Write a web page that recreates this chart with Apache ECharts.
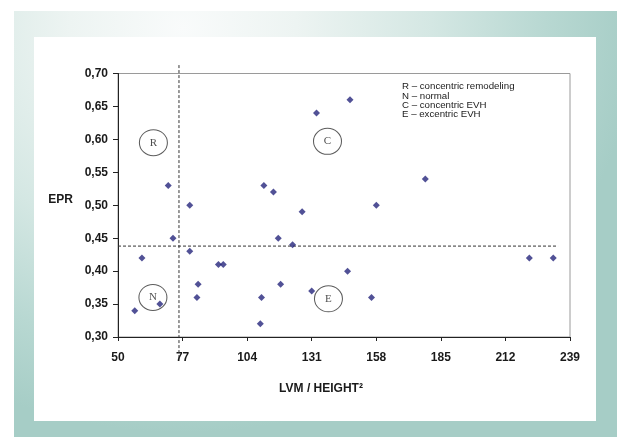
<!DOCTYPE html>
<html>
<head>
<meta charset="utf-8">
<script src="https://cdn.jsdelivr.net/npm/echarts@6/dist/echarts.min.js"></script>
<style>
  html, body { margin: 0; padding: 0; background: #ffffff; }
  #wrap { position: relative; width: 617px; height: 437px; overflow: hidden; }
  #bg { position: absolute; left: 14px; top: 11px; width: 603px; height: 426px;
        background: radial-gradient(ellipse 75% 95% at 28% 4%, #f9fbfb 0%, #edf4f2 25%, #d4e7e3 55%, #b8d8d2 80%, #a6cdc6 100%); }
  #panel { position: absolute; left: 34px; top: 37px; width: 562px; height: 384px; background: #ffffff; }
  #chart { position: absolute; left: 0; top: 0; width: 617px; height: 437px; }
</style>
</head>
<body>
<div id="wrap">
  <div id="bg"></div>
  <div id="panel"></div>
  <div id="chart"></div>
</div>
<script>
// ---- data ----
const lvm = [57, 60, 67.5, 71, 73, 80, 80, 83, 83.5, 92, 94, 109.5, 110, 111, 115, 117, 118, 123, 127, 131, 133, 146, 147, 156, 158, 178.5, 222, 232];
const epr = [0.34, 0.42, 0.35, 0.53, 0.45, 0.50, 0.43, 0.36, 0.38, 0.41, 0.41, 0.32, 0.36, 0.53, 0.52, 0.45, 0.38, 0.44, 0.49, 0.37, 0.64, 0.40, 0.66, 0.36, 0.50, 0.54, 0.42, 0.42];
const xTicks = [50, 77, 104, 131, 158, 185, 212, 239];
const yTicks = [0.30, 0.35, 0.40, 0.45, 0.50, 0.55, 0.60, 0.65, 0.70];
const cutoffLvm = 75.5;
const cutoffEpr = 0.438;
const vLineEpr = [0.268, 0.715];
const hLineLvm = [50, 234];
const zoneLabels = ['R', 'N', 'C', 'E'];
const zoneLvm = [64.8, 64.6, 137.6, 138.0];
const zoneEpr = [0.595, 0.360, 0.597, 0.358];
const legendLines = ['R \u2013 concentric remodeling', 'N \u2013 normal', 'C \u2013 concentric EVH', 'E \u2013 excentric EVH'];

const points = lvm.map((v, i) => [v, epr[i]]);
const zones = zoneLabels.map((l, i) => [zoneLvm[i], zoneEpr[i], l]);

const chart = echarts.init(document.getElementById('chart'), null, { renderer: 'canvas' });
const font = 'Arial, "Liberation Sans", sans-serif';
chart.setOption({
  backgroundColor: 'transparent',
  animation: false,
  grid: { left: 118, top: 73.5, right: 47, bottom: 100, show: true, borderColor: '#9a9a9a', borderWidth: 1, backgroundColor: 'transparent' },
  xAxis: {
    type: 'value', min: 50, max: 239,
    name: 'LVM / HEIGHT\u00b2', nameLocation: 'middle', nameGap: 46,
    nameTextStyle: { fontFamily: font, fontWeight: 'bold', fontSize: 12, color: '#1a1a1a', padding: [0, 46, 0, 0] },
    axisLine: { show: true, onZero: false, lineStyle: { color: '#222', width: 1 } },
    axisTick: { show: true, length: 4, inside: false, customValues: xTicks, lineStyle: { color: '#222' } },
    axisLabel: { customValues: xTicks, margin: 15, fontFamily: font, fontWeight: 'bold', fontSize: 12, color: '#1a1a1a', showMinLabel: true, showMaxLabel: true },
    splitLine: { show: false }
  },
  yAxis: {
    type: 'value', min: 0.3, max: 0.7,
    name: 'EPR', nameLocation: 'middle', nameGap: 45, nameRotate: 0,
    nameTextStyle: { fontFamily: font, fontWeight: 'bold', fontSize: 12, color: '#1a1a1a', verticalAlign: 'bottom' },
    axisLine: { show: true, onZero: false, lineStyle: { color: '#222', width: 1 } },
    axisTick: { show: true, length: 5, inside: false, customValues: yTicks, lineStyle: { color: '#222' } },
    axisLabel: { customValues: yTicks, margin: 10, fontFamily: font, fontWeight: 'bold', fontSize: 12, color: '#1a1a1a',
      formatter: v => v.toFixed(2).replace('.', ',') },
    splitLine: { show: false }
  },
  graphic: [{
    type: 'text', left: 402, top: 81.5, z: 10,
    style: { text: legendLines.join('\n'), font: '9.7px ' + font, lineHeight: 9.4, fill: '#1a1a1a' }
  }],
  series: [
    {
      type: 'line', data: [[cutoffLvm, vLineEpr[0]], [cutoffLvm, vLineEpr[1]]], clip: false, symbol: 'none',
      lineStyle: { color: '#333', width: 1, type: [3, 2] }, silent: true, z: 3
    },
    {
      type: 'line', data: [[hLineLvm[0], cutoffEpr], [hLineLvm[1], cutoffEpr]], clip: false, symbol: 'none',
      lineStyle: { color: '#333', width: 1, type: [3, 2] }, silent: true, z: 3
    },
    {
      type: 'scatter', data: zones, symbol: 'circle', symbolSize: [28, 26], z: 4,
      itemStyle: { color: 'rgba(255,255,255,0)', borderColor: '#333', borderWidth: 1 },
      label: { show: true, position: 'inside', formatter: p => p.data[2], fontFamily: '"Liberation Serif", "Times New Roman", serif', fontSize: 11, color: '#222' },
      silent: true
    },
    {
      type: 'scatter', data: points, symbol: 'diamond', symbolSize: 7, z: 5,
      itemStyle: { color: '#25257c' }
    }
  ]
});
</script>
</body>
</html>
